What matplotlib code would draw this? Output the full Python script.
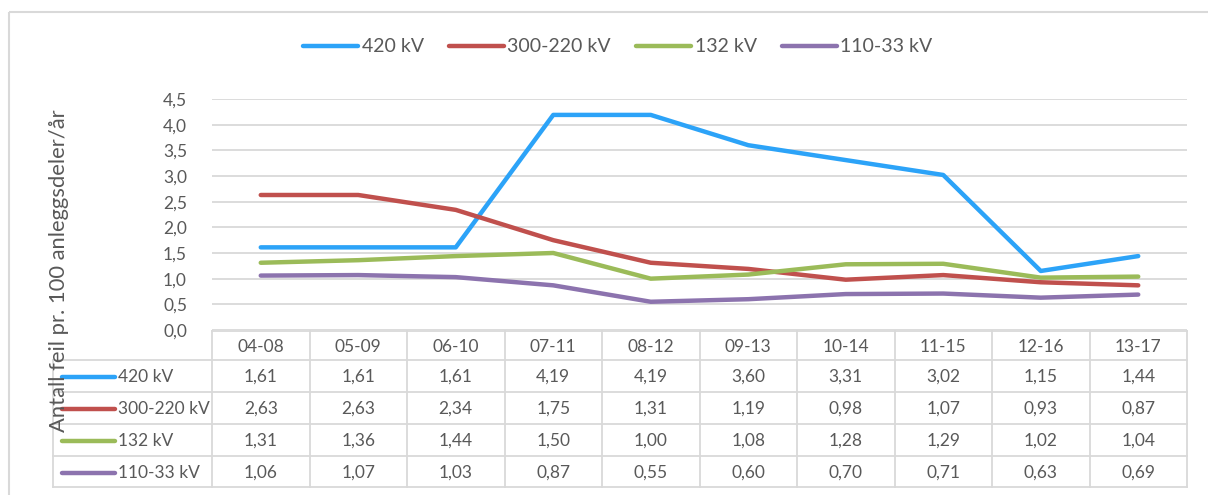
import matplotlib
matplotlib.use("Agg")
import matplotlib.pyplot as plt
from matplotlib.patches import Rectangle

plt.rcParams['font.family'] = ['Lato', 'DejaVu Sans']

periods = ["04-08", "05-09", "06-10", "07-11", "08-12", "09-13", "10-14", "11-15", "12-16", "13-17"]
series_names = ["420 kV", "300-220 kV", "132 kV", "110-33 kV"]
v420 = [1.61, 1.61, 1.61, 4.19, 4.19, 3.60, 3.31, 3.02, 1.15, 1.44]
v300 = [2.63, 2.63, 2.34, 1.75, 1.31, 1.19, 0.98, 1.07, 0.93, 0.87]
v132 = [1.31, 1.36, 1.44, 1.50, 1.00, 1.08, 1.28, 1.29, 1.02, 1.04]
v110 = [1.06, 1.07, 1.03, 0.87, 0.55, 0.60, 0.70, 0.71, 0.63, 0.69]
series_values = [v420, v300, v132, v110]
colors = ["#2CA3F8", "#C0504D", "#9BBB59", "#8C73AE"]
y_ticks = [0.0, 0.5, 1.0, 1.5, 2.0, 2.5, 3.0, 3.5, 4.0, 4.5]
ylabel = "Antall feil pr. 100 anleggsdeler/år"

W, H = 1208, 495
fig = plt.figure(figsize=(W / 100, H / 100), dpi=100)
TXT = "#595959"
GRID = "#D9D9D9"

# plot area in pixels
L, R, T, B = 212, 1187, 99, 330
ax = fig.add_axes([L / W, 1 - B / H, (R - L) / W, (B - T) / H])
n = len(periods)
xs = list(range(n))
lines = []
for name, vals, c in zip(series_names, series_values, colors):
    ln, = ax.plot(xs, vals, color=c, lw=3.2, solid_capstyle='round', solid_joinstyle='round', label=name, zorder=3)
    lines.append(ln)
ax.set_xlim(-0.5, n - 0.5)
ax.set_ylim(0, 4.5)
ax.set_yticks(y_ticks)
ax.set_yticklabels([f"{t:.1f}".replace(".", ",") for t in y_ticks], fontsize=12.5, color=TXT)
ax.tick_params(axis='y', length=0, pad=18)
ax.set_xticks([])
ax.yaxis.grid(True, color=GRID, lw=1.3)
ax.set_axisbelow(True)
for s in ax.spines.values():
    s.set_visible(False)

# overlay in pixel coords
ov = fig.add_axes([0, 0, 1, 1], zorder=-1)
ov.set_xlim(0, W)
ov.set_ylim(H, 0)
ov.axis('off')
ov.add_patch(Rectangle((8.5, 11.5), 1300, 600, fill=False, ec="#D9D9D9", lw=1.5))

ov2 = fig.add_axes([0, 0, 1, 1], zorder=5)
ov2.set_xlim(0, W)
ov2.set_ylim(H, 0)
ov2.axis('off')
ov2.patch.set_alpha(0)

colw = (R - L) / n
row_y = [331, 360, 392, 424, 456, 487]
LEGX = 53
# horizontal lines
ov2.plot([L, R], [row_y[0], row_y[0]], color=GRID, lw=1.3)
for y in row_y[1:]:
    ov2.plot([LEGX, R], [y, y], color=GRID, lw=1.3)
# vertical lines
for i in range(n + 1):
    ov2.plot([L + i * colw] * 2, [row_y[0], row_y[-1]], color=GRID, lw=1.3)
ov2.plot([LEGX, LEGX], [row_y[1], row_y[-1]], color=GRID, lw=1.3)
# header
for i, p in enumerate(periods):
    ov2.text(L + (i + 0.5) * colw, (row_y[0] + row_y[1]) / 2 + 1, p, ha='center', va='center', fontsize=12.5, color=TXT)
for r, (name, vals, c) in enumerate(zip(series_names, series_values, colors)):
    yc = (row_y[r + 1] + row_y[r + 2]) / 2 + 1
    ov2.plot([62, 115], [yc, yc], color=c, lw=3.2, solid_capstyle='round')
    ov2.text(118, yc, name, ha='left', va='center', fontsize=12.5, color=TXT)
    for i, v in enumerate(vals):
        ov2.text(L + (i + 0.5) * colw, yc, f"{v:.2f}".replace(".", ","), ha='center', va='center', fontsize=12.5, color=TXT)

fig.text(59 / W, 1 - 271 / H, ylabel, rotation=90, ha='center', va='center', fontsize=15.8, color=TXT, zorder=10)

fig.legend(handles=lines, loc='center', bbox_to_anchor=(618 / W, 1 - 47 / H), ncol=4, frameon=False,
           fontsize=14, handlelength=2.8, handletextpad=0.2, columnspacing=1.3, labelcolor=TXT)

fig.savefig("out.png", dpi=100)
